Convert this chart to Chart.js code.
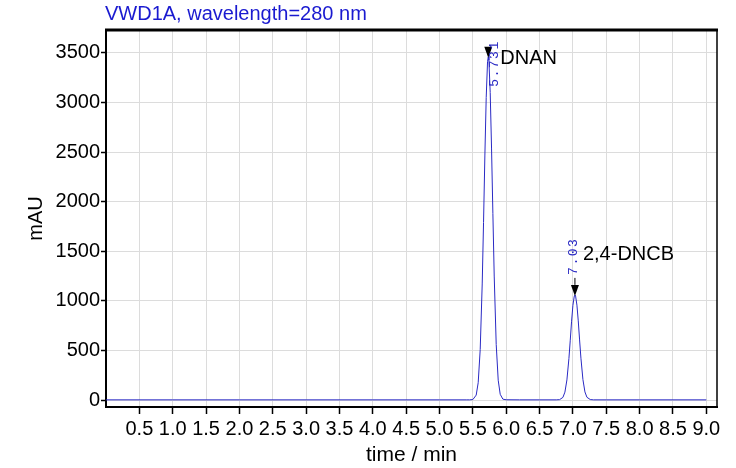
<!DOCTYPE html>
<html>
<head>
<meta charset="utf-8">
<script src="https://cdn.jsdelivr.net/npm/chart.js@4"></script>
<style>
  html, body { margin: 0; padding: 0; background: #ffffff; }
  #wrap { width: 736px; height: 468px; }
</style>
</head>
<body>
<div id="wrap"><canvas id="c" width="736" height="468"></canvas></div>
<script>
// ---- data ----
const chartTitle = "VWD1A, wavelength=280 nm";
const timeMin = [
  0.00, 1.00, 2.00, 3.00, 4.00, 5.00, 5.40, 5.45,
  5.50, 5.55, 5.58, 5.61, 5.64, 5.66, 5.68, 5.70, 5.72, 5.731, 5.74, 5.76, 5.78, 5.80, 5.82, 5.85, 5.88, 5.91, 5.95, 6.00,
  6.20, 6.50, 6.75, 6.80, 6.85, 6.88, 6.91, 6.94, 6.96, 6.98, 7.00, 7.02, 7.03, 7.04, 7.06, 7.08, 7.10, 7.12, 7.15, 7.18, 7.21, 7.26, 7.31,
  7.50, 8.00, 8.50, 9.00
];
const signalMAU = [
  2, 2, 2, 2, 2, 2, 2, 2,
  5, 50, 175, 510, 1170, 1790, 2460, 3050, 3410, 3460, 3425, 3100, 2540, 1880, 1250, 560, 200, 58, 9, 3,
  2, 2, 2, 4, 27, 80, 203, 418, 603, 795, 955, 1047, 1060, 1048, 957, 798, 606, 422, 206, 82, 28, 5, 2,
  2, 2, 2, 2
];
const xTickValues = [0.5,1.0,1.5,2.0,2.5,3.0,3.5,4.0,4.5,5.0,5.5,6.0,6.5,7.0,7.5,8.0,8.5,9.0];
const yTickValues = [0, 500, 1000, 1500, 2000, 2500, 3000, 3500];
const peakTimes = [5.731, 7.03];
const peakHeights = [3460, 1060];
const peakNames = ["DNAN", "2,4-DNCB"];
const peakRTLabels = ["5.731", "7.03"];

// ---- styling (not data) ----
const lineColor = "#2a2ac4";
const sans = "'Liberation Sans', Arial, sans-serif";
const labelStyle = [
  { nameDx: 12, nameDy: 2, rtDx: 6, rtBottomDy: 30, lead: false },
  { nameDx: 8, nameDy: -40, rtDx: -1, rtBottomDy: -20, lead: true }
];

const framePlugin = {
  id: 'frame',
  afterDraw(chart) {
    const { ctx, chartArea: a, scales } = chart;
    ctx.save();
    ctx.fillStyle = "#1a1ad0";
    ctx.font = "20px " + sans;
    ctx.textBaseline = "alphabetic";
    ctx.textAlign = "left";
    ctx.fillText(chartTitle, a.left - 1, 20);
    ctx.strokeStyle = "#000";
    ctx.lineWidth = 3;
    ctx.beginPath(); ctx.moveTo(a.left - 1, a.top); ctx.lineTo(a.right + 1, a.top); ctx.stroke();
    ctx.lineWidth = 1.5;
    ctx.beginPath(); ctx.moveTo(a.right, a.top); ctx.lineTo(a.right, a.bottom); ctx.stroke();
    for (let i = 0; i < peakTimes.length; i++) {
      const px = scales.x.getPixelForValue(peakTimes[i]);
      const py = scales.y.getPixelForValue(peakHeights[i]);
      const st = labelStyle[i];
      ctx.fillStyle = "#000";
      ctx.beginPath();
      ctx.moveTo(px, py + 1);
      ctx.lineTo(px - 4, py - 10);
      ctx.lineTo(px + 4, py - 10);
      ctx.closePath();
      ctx.fill();
      if (st.lead) {
        ctx.strokeStyle = "#000";
        ctx.lineWidth = 1;
        ctx.beginPath(); ctx.moveTo(px, py - 10); ctx.lineTo(px, py - 17); ctx.stroke();
      }
      ctx.fillStyle = "#000";
      ctx.font = "20px " + sans;
      ctx.textAlign = "left";
      ctx.textBaseline = "middle";
      ctx.fillText(peakNames[i], px + st.nameDx, py + st.nameDy);
      ctx.save();
      ctx.translate(px + st.rtDx, py + st.rtBottomDy);
      ctx.rotate(-Math.PI / 2);
      ctx.fillStyle = "#2a2ac4";
      ctx.font = "13px 'Liberation Mono', 'DejaVu Sans Mono', monospace";
      try { ctx.letterSpacing = "1.5px"; } catch (e) {}
      ctx.textAlign = "left";
      ctx.textBaseline = "middle";
      ctx.fillText(peakRTLabels[i], 0, 0);
      ctx.restore();
    }
    ctx.restore();
  }
};

new Chart(document.getElementById('c'), {
  type: 'line',
  data: {
    datasets: [{
      data: timeMin.map((t, i) => ({ x: t, y: signalMAU[i] })),
      borderColor: lineColor,
      borderWidth: 1,
      pointRadius: 0,
      tension: 0,
      fill: false
    }]
  },
  options: {
    responsive: false,
    animation: false,
    devicePixelRatio: 1,
    layout: { padding: { top: 30, right: 19, left: 0, bottom: 0 } },
    plugins: { legend: { display: false }, tooltip: { enabled: false }, title: { display: false } },
    scales: {
      x: {
        type: 'linear',
        min: 0,
        max: 9.16,
        afterBuildTicks(s) { s.ticks = xTickValues.map(v => ({ value: v })); },
        afterFit(s) { s.height = 61; },
        grid: { color: '#dcdcdc', lineWidth: 1, tickColor: '#000', tickLength: 7, tickWidth: 1.5 },
        border: { display: true, color: '#000', width: 2 },
        ticks: {
          color: '#000',
          font: { family: sans, size: 20 },
          padding: 3,
          maxRotation: 0,
          autoSkip: false,
          callback: v => v.toFixed(1)
        },
        title: { display: true, text: 'time / min', color: '#000', font: { family: sans, size: 21 }, padding: { top: 0, bottom: 0 } }
      },
      y: {
        type: 'linear',
        min: -70,
        max: 3730,
        afterBuildTicks(s) { s.ticks = yTickValues.map(v => ({ value: v })); },
        afterFit(s) { s.width = 106; },
        grid: { color: '#dcdcdc', lineWidth: 1, tickColor: '#000', tickLength: 5, tickWidth: 1.5 },
        border: { display: true, color: '#000', width: 2 },
        ticks: {
          color: '#000',
          font: { family: sans, size: 20 },
          padding: 1,
          autoSkip: false,
          callback: v => String(v)
        },
        title: { display: true, text: 'mAU', color: '#000', font: { family: sans, size: 20 }, padding: { top: 24, bottom: 0 } }
      }
    }
  },
  plugins: [framePlugin]
});
</script>
</body>
</html>
